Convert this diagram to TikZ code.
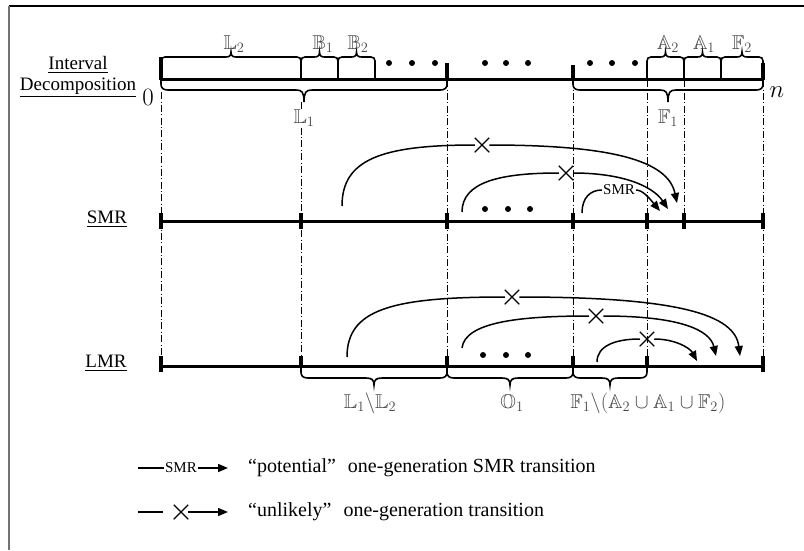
\documentclass[tikz,border=0pt]{standalone}
\usepackage{amssymb}
\usepackage{fontspec}
\setmainfont{Liberation Serif}
\usetikzlibrary{arrows.meta,shapes.misc}
\newcommand{\upbrace}[2]{%
  \pgfmathsetmacro{\brmid}{(#1+#2)/2}%
  \draw[brc] (#1,79) -- (#1,61) .. controls (#1,58.5) and ({#1+1.5},57) .. ({#1+4},57)
    -- ({\brmid-5},57) .. controls ({\brmid-1.5},57) and (\brmid,55.5) .. (\brmid,52)
    .. controls (\brmid,55.5) and ({\brmid+1.5},57) .. ({\brmid+5},57)
    -- ({#2-4},57) .. controls ({#2-1.5},57) and (#2,58.5) .. (#2,61) -- (#2,79);}
\newcommand{\downbrace}[5]{%
  \pgfmathsetmacro{\brmid}{(#1+#2)/2}%
  \pgfmathsetmacro{\bry}{#3+#4}%
  \pgfmathsetmacro{\brt}{#3+#5}%
  \draw[brc] (#1,#3) -- (#1,{\bry-6}) .. controls (#1,{\bry-2}) and ({#1+2},\bry) .. ({#1+7},\bry)
    -- ({\brmid-8},\bry) .. controls ({\brmid-2},\bry) and (\brmid,{\bry+2}) .. (\brmid,\brt)
    .. controls (\brmid,{\bry+2}) and ({\brmid+2},\bry) .. ({\brmid+8},\bry)
    -- ({#2-7},\bry) .. controls ({#2-2},\bry) and (#2,{\bry-2}) .. (#2,{\bry-6}) -- (#2,#3);}
\tikzset{
  axisline/.style={line width=3pt},
  tickmark/.style={line width=3.5pt},
  brc/.style={line width=1.6pt},
  guide/.style={line width=0.8pt, dash pattern=on 7pt off 2.5pt on 0.8pt off 2.5pt},
  conn/.style={line width=1.5pt},
  arr/.style={conn,-{Triangle[length=10pt,width=8pt]}},
  xmark/.style={cross out, draw, line width=1.3pt, minimum size=8.5pt, inner sep=0pt, outer sep=3pt},
  lbl/.style={font=\fontsize{19}{21}\selectfont},
  bbl/.style={font=\fontsize{20}{22}\selectfont, text=black!72, inner sep=1pt},
  smrlbl/.style={font=\fontsize{15}{17}\selectfont, inner sep=1pt},
  legtxt/.style={font=\fontsize{20}{22}\selectfont, anchor=west, inner sep=0pt},
}
\begin{document}
\begin{tikzpicture}[x=1pt,y=-1pt]
\useasboundingbox (0,0) rectangle (804,550);
% frame
\draw[line width=1.3pt] (9,6) -- (804,6);
\draw[line width=2pt, black!55] (9,6) -- (9,550);

% guide lines
\foreach \gx/\gt/\gb in {161/92/366, 301/102/366, 447/80/366, 573/80/366, 647/80/366, 684/80/221, 763/80/366}
  \draw[guide] (\gx,\gt) -- (\gx,\gb);

% ---- interval decomposition
\node[lbl, align=center] (idl) at (78,77) {\underline{Interval}\\\underline{Decomposition}};
\draw[axisline] (161,79) -- (763,79);
\draw[tickmark] (161,57) -- (161,80);
\draw[tickmark] (447,63) -- (447,80);
\draw[tickmark] (573,65) -- (573,80);
\draw[tickmark] (763,63) -- (763,80);
\upbrace{161}{301}
\upbrace{301}{338}
\upbrace{338}{375}
\upbrace{647}{684}
\upbrace{684}{721}
\upbrace{721}{763}
\downbrace{161}{447}{80}{10}{22}
\downbrace{573}{763}{80}{10}{22}
\node[bbl] (lL2) at (234,44) {$\mathbb{L}_2$};
\node[bbl] (lB1) at (323,44) {$\mathbb{B}_1$};
\node[bbl] (lB2) at (358,44) {$\mathbb{B}_2$};
\node[bbl] (lA2) at (668,44) {$\mathbb{A}_2$};
\node[bbl] (lA1) at (704,44) {$\mathbb{A}_1$};
\node[bbl] (lF2) at (742,44) {$\mathbb{F}_2$};
\node[bbl, fill=white] (lL1) at (304,118) {$\mathbb{L}_1$};
\node[bbl] (lF1) at (668,118) {$\mathbb{F}_1$};
\node[font=\fontsize{26}{28}\selectfont, inner sep=0pt] (zero) at (148,97) {$0$};
\node[font=\fontsize{26}{28}\selectfont, inner sep=0pt] (nn) at (777,92) {$n$};
\foreach \dx in {389,412,435,485,506,528,590,612,635}
  \fill (\dx,63) circle (3);

% ---- SMR
\node[lbl] (smrl) at (107,219) {\underline{SMR}};
\draw[axisline] (161,221) -- (763,221);
\foreach \tx in {161,301,447,573,647,684,763}
  \draw[tickmark] (\tx,213) -- (\tx,229);
\foreach \dx in {485,508,530}
  \fill (\dx,209) circle (3);
\coordinate (s1) at (342,206);
\coordinate (e1) at (677,203);
\node[xmark] (c1) at (482,145) {};
\draw[conn] (s1) .. controls (342,160) and (380,145) .. (c1.west);
\draw[arr] (c1.east) .. controls (610,145) and (668,160) .. (e1);
\coordinate (s2) at (462,212);
\coordinate (e2) at (668,209);
\node[xmark] (c2) at (566,173) {};
\draw[conn] (s2) .. controls (462,182) and (500,173) .. (c2.west);
\draw[arr] (c2.east) .. controls (620,173) and (652,185) .. (e2);
\coordinate (s3) at (582,213);
\coordinate (e3) at (660,211);
\node[smrlbl] (m3) at (619,190) {SMR};
\draw[conn] (s3) .. controls (582,198) and (590,190) .. (m3.west);
\draw[arr] (m3.east) .. controls (643,190) and (650,199) .. (e3);

% ---- LMR
\node[lbl] (lmrl) at (106,363) {\underline{LMR}};
\draw[axisline] (161,366) -- (763,366);
\draw[tickmark] (161,356) -- (161,372);
\draw[tickmark] (763,356) -- (763,372);
\foreach \tx in {301,447,573,647}
  \draw[tickmark] (\tx,356) -- (\tx,367);
\downbrace{301}{447}{366}{12}{19}
\downbrace{447}{573}{366}{12}{19}
\downbrace{573}{647}{366}{12}{19}
\node[bbl] (lL12) at (370,403) {$\mathbb{L}_1{\backslash}\mathbb{L}_2$};
\node[bbl] (lO1) at (512,403) {$\mathbb{O}_1$};
\node[bbl] (lF1x) at (648,403) {$\mathbb{F}_1{\backslash}(\mathbb{A}_2\cup\mathbb{A}_1\cup\mathbb{F}_2)$};
\foreach \dx in {483,506,528}
  \fill (\dx,355) circle (3);
\coordinate (s4) at (347,357);
\coordinate (e4) at (740,356);
\node[xmark] (c4) at (512,297) {};
\draw[conn] (s4) .. controls (347,310) and (390,297) .. (c4.west);
\draw[arr] (c4.east) .. controls (680,297) and (735,315) .. (e4);
\coordinate (s5) at (462,348);
\coordinate (e5) at (716,356);
\node[xmark] (c5) at (596,316) {};
\draw[conn] (s5) .. controls (465,322) and (520,316) .. (c5.west);
\draw[arr] (c5.east) .. controls (680,316) and (710,330) .. (e5);
\coordinate (s6) at (597,362);
\coordinate (e6) at (697,361);
\node[xmark] (c6) at (647,339) {};
\draw[conn] (s6) .. controls (597,346) and (615,339) .. (c6.west);
\draw[arr] (c6.east) .. controls (675,339) and (690,348) .. (e6);

% ---- legend
\coordinate (lg1s) at (138,468);
\coordinate (lg1e) at (228,468);
\node[smrlbl] (lg1m) at (181,468) {SMR};
\draw[conn] (lg1s) -- (lg1m.west);
\draw[arr] (lg1m.east) -- (lg1e);
\node[legtxt] (lg1t) at (248,468) {“potential”\hspace{0.6em}one-generation SMR transition};
\coordinate (lg2s) at (138,512);
\coordinate (lg2a) at (163,512);
\coordinate (lg2e) at (228,512);
\node[xmark] (lg2c) at (181,512) {};
\draw[conn] (lg2s) -- (lg2a);
\draw[arr] (lg2c.east) -- (lg2e);
\node[legtxt] (lg2t) at (248,512) {“unlikely”\hspace{0.6em}one-generation transition};
\end{tikzpicture}
\end{document}
